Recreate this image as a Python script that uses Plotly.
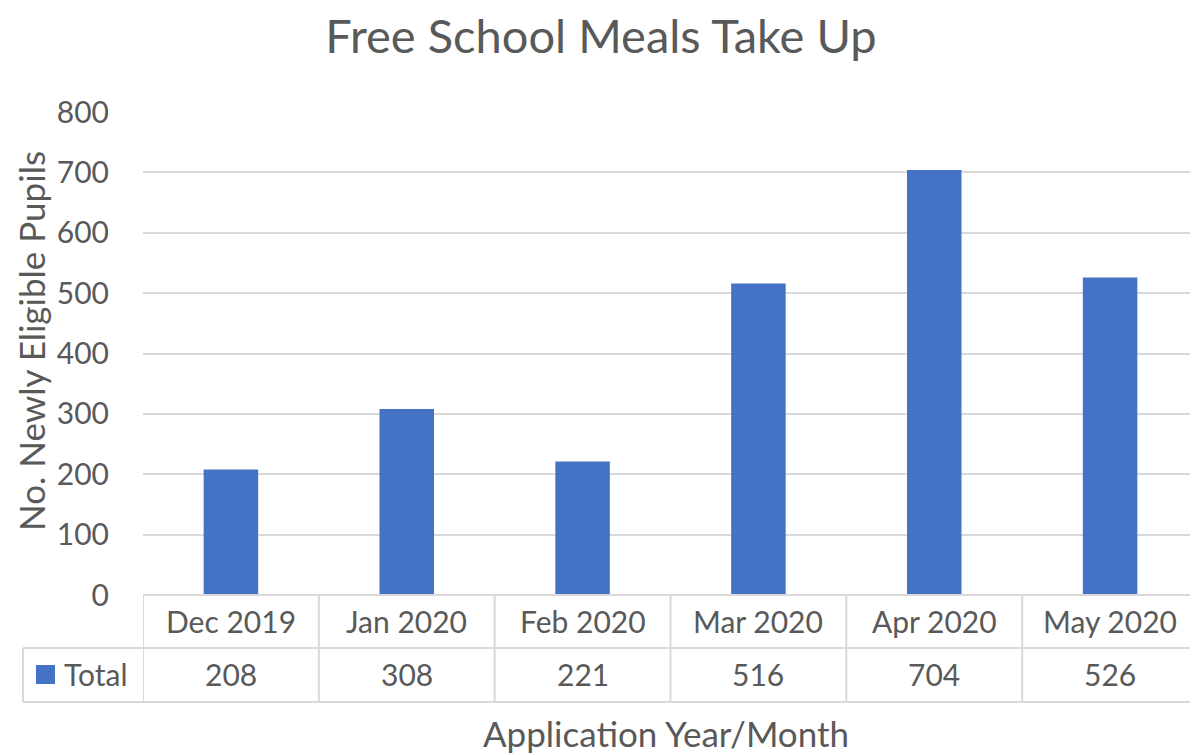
import plotly.graph_objects as go

categories = ["Dec 2019", "Jan 2020", "Feb 2020", "Mar 2020", "Apr 2020", "May 2020"]
totals = [208, 308, 221, 516, 704, 526]
series_name = "Total"
y_ticks = [0, 100, 200, 300, 400, 500, 600, 700, 800]

BAR = "#4472C4"
TXT = "#595959"
GRID = "#D9D9D9"
FONT = "Lato"

OFF = 8  # page body margin
W, H = 1198 - OFF, 755 - OFF
L, T = 143 - OFF, 112 - OFF
R, B = 0, (755 - OFF) - (595 - OFF)
pw, ph = W - L - R, H - T - B

def px_x(px):
    return (px - OFF - L) / pw

def px_y(py):
    return (H - B - (py - OFF)) / ph

fig = go.Figure()
fig.add_trace(go.Bar(x=list(range(len(categories))), y=totals, name=series_name,
                     marker=dict(color=BAR, line=dict(width=0)), showlegend=False))

shapes = []
annotations = []
n = len(categories)
y_top, y_mid, y_bot = 0, px_y(648), px_y(702)
shapes.append(dict(type="line", xref="paper", yref="paper", x0=0, x1=1, y0=y_top, y1=y_top,
                   line=dict(color=GRID, width=2)))
shapes.append(dict(type="line", xref="paper", yref="paper", x0=px_x(23), x1=1, y0=y_mid, y1=y_mid,
                   line=dict(color=GRID, width=2)))
shapes.append(dict(type="line", xref="paper", yref="paper", x0=px_x(23), x1=1, y0=y_bot, y1=y_bot,
                   line=dict(color=GRID, width=2)))
for i in range(n + 1):
    shapes.append(dict(type="line", xref="x", yref="paper", x0=i - 0.5, x1=i - 0.5, y0=y_top, y1=y_bot,
                       line=dict(color=GRID, width=2)))
shapes.append(dict(type="line", xref="paper", yref="paper", x0=px_x(23), x1=px_x(23), y0=y_mid, y1=y_bot,
                   line=dict(color=GRID, width=2)))
shapes.append(dict(type="rect", xref="paper", yref="paper", x0=px_x(36), x1=px_x(55),
                   y0=px_y(684), y1=px_y(665), fillcolor=BAR, line=dict(width=0)))

for i, (c, v) in enumerate(zip(categories, totals)):
    annotations.append(dict(x=i, y=px_y(621), xref="x", yref="paper", text=c, showarrow=False,
                            font=dict(size=30, color=TXT, family=FONT), xanchor="center", yanchor="middle"))
    annotations.append(dict(x=i, y=px_y(674), xref="x", yref="paper", text=str(v), showarrow=False,
                            font=dict(size=30, color=TXT, family=FONT), xanchor="center", yanchor="middle"))
annotations.append(dict(x=px_x(62), y=px_y(674), xref="paper", yref="paper", text=series_name, showarrow=False,
                        font=dict(size=30, color=TXT, family=FONT), xanchor="left", yanchor="middle"))
annotations.append(dict(x=px_x(666), y=px_y(733), xref="paper", yref="paper", text="Application Year/Month",
                        showarrow=False, font=dict(size=35, color=TXT, family=FONT),
                        xanchor="center", yanchor="middle"))
annotations.append(dict(x=px_x(31), y=px_y(341), xref="paper", yref="paper", text="No. Newly Eligible Pupils",
                        showarrow=False, textangle=-90, font=dict(size=35, color=TXT, family=FONT),
                        xanchor="center", yanchor="middle"))

fig.update_layout(
    width=W, height=H,
    margin=dict(l=L, r=R, t=T, b=B, pad=0),
    paper_bgcolor="white", plot_bgcolor="white",
    title=dict(text="Free School Meals Take Up", x=(601 - OFF) / W, xanchor="center", xref="container",
               y=1 - (37 - OFF) / H, yref="container", yanchor="middle",
               font=dict(size=47, color=TXT, family=FONT)),
    bargap=0.69,
    xaxis=dict(range=[-0.5, n - 0.5], showticklabels=False, showgrid=False, zeroline=False,
               showline=False, ticks=""),
    yaxis=dict(range=[0, 800], tickvals=y_ticks, showgrid=True, gridcolor=GRID, gridwidth=2,
               zeroline=False, showline=False, ticks="", ticklabelstandoff=33,
               tickfont=dict(size=30, color=TXT, family=FONT)),
    shapes=shapes, annotations=annotations,
)

fig.write_html("out.html")
